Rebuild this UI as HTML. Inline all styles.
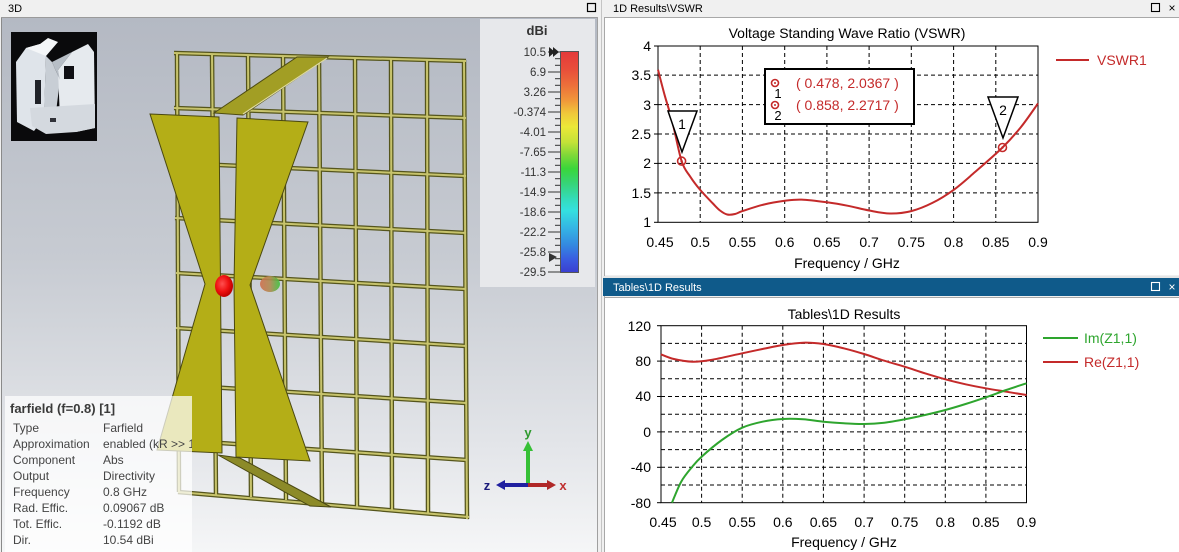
<!DOCTYPE html>
<html>
<head>
<meta charset="utf-8">
<style>
html,body{margin:0;padding:0;background:#f0f0f0;}
body{width:1179px;height:552px;overflow:hidden;}
svg{display:block;}
text{font-family:"Liberation Sans",sans-serif;}
</style>
</head>
<body>
<svg id="main" width="1179" height="552" viewBox="0 0 1179 552" xmlns="http://www.w3.org/2000/svg">
<defs>
  <linearGradient id="bg3d" x1="0" y1="0" x2="0" y2="1">
    <stop offset="0" stop-color="#b4b9c3"/>
    <stop offset="0.45" stop-color="#c7cbd2"/>
    <stop offset="0.8" stop-color="#e3e5e9"/>
    <stop offset="1" stop-color="#f5f6f7"/>
  </linearGradient>
  <linearGradient id="cbar" x1="0" y1="0" x2="0" y2="1">
    <stop offset="0" stop-color="#e43a3a"/>
    <stop offset="0.08" stop-color="#e84e3a"/>
    <stop offset="0.15" stop-color="#ec6e3a"/>
    <stop offset="0.22" stop-color="#f0963a"/>
    <stop offset="0.28" stop-color="#f0c83a"/>
    <stop offset="0.34" stop-color="#ece838"/>
    <stop offset="0.41" stop-color="#c4e238"/>
    <stop offset="0.47" stop-color="#7ed838"/>
    <stop offset="0.53" stop-color="#3ad63a"/>
    <stop offset="0.60" stop-color="#36d47a"/>
    <stop offset="0.67" stop-color="#34dcbc"/>
    <stop offset="0.72" stop-color="#34e0e0"/>
    <stop offset="0.80" stop-color="#34b4e4"/>
    <stop offset="0.88" stop-color="#3486e0"/>
    <stop offset="0.94" stop-color="#3a5ce0"/>
    <stop offset="1" stop-color="#3a3ed0"/>
  </linearGradient>
  <radialGradient id="redball" cx="0.4" cy="0.4" r="0.6">
    <stop offset="0" stop-color="#ff5050"/>
    <stop offset="0.6" stop-color="#ee1010"/>
    <stop offset="1" stop-color="#c00000"/>
  </radialGradient>
  <linearGradient id="blob" x1="0" y1="0" x2="1" y2="0">
    <stop offset="0" stop-color="#d0704c"/>
    <stop offset="0.5" stop-color="#b08a50"/>
    <stop offset="1" stop-color="#3ec23e"/>
  </linearGradient>
  <clipPath id="infoclip"><rect x="5" y="396" width="187" height="156"/></clipPath>
  <clipPath id="vp"><rect x="2" y="18" width="595" height="534"/></clipPath>
</defs>

<!-- ============ 3D PANEL ============ -->
<rect x="0" y="0" width="598" height="17" fill="#f0f0f0"/>
<text x="8" y="12" font-size="11" fill="#000">3D</text>
<rect x="587.5" y="3.5" width="8" height="8" fill="none" stroke="#000" stroke-width="1.2"/>
<rect x="2" y="18" width="595" height="534" fill="url(#bg3d)"/>
<line x1="1.5" y1="17" x2="1.5" y2="552" stroke="#8a8a8a"/>
<line x1="1" y1="17.5" x2="598" y2="17.5" stroke="#9a9a9a"/>
<line x1="597.5" y1="17" x2="597.5" y2="552" stroke="#a0a0a0"/>

<g clip-path="url(#vp)">
<!-- color legend panel -->
<rect x="480" y="19" width="115" height="268" fill="#e7e8eb"/>
<text x="537" y="35" font-size="13" font-weight="bold" fill="#333" text-anchor="middle">dBi</text>
<rect x="560.5" y="51.5" width="18" height="221" fill="url(#cbar)" stroke="#555" stroke-width="1"/>
<g stroke="#333" stroke-width="1">
  <line x1="548" y1="52" x2="560" y2="52"/><line x1="548" y1="72" x2="560" y2="72"/>
  <line x1="548" y1="92" x2="560" y2="92"/><line x1="548" y1="112" x2="560" y2="112"/>
  <line x1="548" y1="132" x2="560" y2="132"/><line x1="548" y1="152" x2="560" y2="152"/>
  <line x1="548" y1="172" x2="560" y2="172"/><line x1="548" y1="192" x2="560" y2="192"/>
  <line x1="548" y1="212" x2="560" y2="212"/><line x1="548" y1="232" x2="560" y2="232"/>
  <line x1="548" y1="252" x2="560" y2="252"/><line x1="548" y1="272" x2="560" y2="272"/>
</g>
<g stroke="#333" stroke-width="1">
  <line x1="555" y1="58.7" x2="560" y2="58.7"/><line x1="555" y1="65.3" x2="560" y2="65.3"/>
  <line x1="555" y1="78.7" x2="560" y2="78.7"/><line x1="555" y1="85.3" x2="560" y2="85.3"/>
  <line x1="555" y1="98.7" x2="560" y2="98.7"/><line x1="555" y1="105.3" x2="560" y2="105.3"/>
  <line x1="555" y1="118.7" x2="560" y2="118.7"/><line x1="555" y1="125.3" x2="560" y2="125.3"/>
  <line x1="555" y1="138.7" x2="560" y2="138.7"/><line x1="555" y1="145.3" x2="560" y2="145.3"/>
  <line x1="555" y1="158.7" x2="560" y2="158.7"/><line x1="555" y1="165.3" x2="560" y2="165.3"/>
  <line x1="555" y1="178.7" x2="560" y2="178.7"/><line x1="555" y1="185.3" x2="560" y2="185.3"/>
  <line x1="555" y1="198.7" x2="560" y2="198.7"/><line x1="555" y1="205.3" x2="560" y2="205.3"/>
  <line x1="555" y1="218.7" x2="560" y2="218.7"/><line x1="555" y1="225.3" x2="560" y2="225.3"/>
  <line x1="555" y1="238.7" x2="560" y2="238.7"/><line x1="555" y1="245.3" x2="560" y2="245.3"/>
  <line x1="555" y1="258.7" x2="560" y2="258.7"/><line x1="555" y1="265.3" x2="560" y2="265.3"/>
</g>
<g font-size="11.5" fill="#333" text-anchor="end">
  <text x="546" y="56">10.5</text><text x="546" y="76">6.9</text>
  <text x="546" y="96">3.26</text><text x="546" y="116">-0.374</text>
  <text x="546" y="136">-4.01</text><text x="546" y="156">-7.65</text>
  <text x="546" y="176">-11.3</text><text x="546" y="196">-14.9</text>
  <text x="546" y="216">-18.6</text><text x="546" y="236">-22.2</text>
  <text x="546" y="256">-25.8</text><text x="546" y="276">-29.5</text>
</g>
<polygon points="549,47 555,52 549,57" fill="#222"/>
<polygon points="553,47 559,52 553,57" fill="#222"/>
<polygon points="549,253 557,257 549,262" fill="#333"/>

<!-- thumbnail -->
<rect x="11" y="32" width="86" height="109" fill="#0a0a0c"/>
<polygon points="16,62 26,48 40,44 46,56 44,118 34,131 17,122" fill="#dfe4ea"/>
<polygon points="26,48 40,44 48,38 58,42 46,56" fill="#f4f6f8"/>
<polygon points="46,56 52,62 60,80 56,112 48,120 44,112" fill="#c8ced5"/>
<polygon points="58,70 72,52 88,44 94,52 95,128 76,132 60,120" fill="#e6eaee"/>
<polygon points="52,62 64,56 72,52 58,70 60,80" fill="#b7bec6"/>
<polygon points="30,108 95,104 95,128 76,132 46,134 32,126" fill="#d4d9df"/>
<rect x="64" y="66" width="10" height="13" fill="#101014"/>
<rect x="35" y="80" width="6" height="24" fill="#202228"/>
<rect x="50" y="118" width="6" height="4" fill="#303238"/>

<!-- grid rows -->
<g stroke-linecap="butt">
<g stroke="#55551c" stroke-width="4.5">
  <line x1="174" y1="53" x2="466" y2="61"/>
  <line x1="174" y1="108" x2="466" y2="118"/>
  <line x1="175" y1="163" x2="466" y2="176"/>
  <line x1="175" y1="218" x2="466" y2="233"/>
  <line x1="176" y1="273" x2="466" y2="289"/>
  <line x1="176" y1="328" x2="466" y2="346"/>
  <line x1="177" y1="385" x2="466" y2="403"/>
  <line x1="177" y1="440" x2="467" y2="460"/>
  <line x1="178" y1="492" x2="469" y2="517"/>
  <line x1="177" y1="53" x2="179" y2="492"/>
  <line x1="212" y1="54" x2="216" y2="495"/>
  <line x1="248" y1="55" x2="251" y2="497"/>
  <line x1="283" y1="56" x2="286" y2="500"/>
  <line x1="319" y1="57" x2="322" y2="503"/>
  <line x1="355" y1="58" x2="357" y2="507"/>
  <line x1="391" y1="59" x2="392" y2="510"/>
  <line x1="427" y1="60" x2="428" y2="513"/>
  <line x1="464" y1="60" x2="467" y2="519"/>
</g>
<g stroke="#c7c36c" stroke-width="2">
  <line x1="174" y1="53" x2="466" y2="61"/>
  <line x1="174" y1="108" x2="466" y2="118"/>
  <line x1="175" y1="163" x2="466" y2="176"/>
  <line x1="175" y1="218" x2="466" y2="233"/>
  <line x1="176" y1="273" x2="466" y2="289"/>
  <line x1="176" y1="328" x2="466" y2="346"/>
  <line x1="177" y1="385" x2="466" y2="403"/>
  <line x1="177" y1="440" x2="467" y2="460"/>
  <line x1="178" y1="492" x2="469" y2="517"/>
  <line x1="177" y1="53" x2="179" y2="492"/>
  <line x1="212" y1="54" x2="216" y2="495"/>
  <line x1="248" y1="55" x2="251" y2="497"/>
  <line x1="283" y1="56" x2="286" y2="500"/>
  <line x1="319" y1="57" x2="322" y2="503"/>
  <line x1="355" y1="58" x2="357" y2="507"/>
  <line x1="391" y1="59" x2="392" y2="510"/>
  <line x1="427" y1="60" x2="428" y2="513"/>
  <line x1="464" y1="60" x2="467" y2="519"/>
</g>
</g>

<!-- top strut -->
<polygon points="214,113 297,57 328,57 243,115" fill="#a29e24" stroke="#4e4c12" stroke-width="1"/>
<line x1="243" y1="114" x2="327" y2="58" stroke="#dedaa0" stroke-width="1.2"/>

<!-- bottom strut -->
<polygon points="218,455 240,458 331,507 310,506" fill="#8c8a28" stroke="#4a4812" stroke-width="1"/>

<!-- wings -->
<polygon points="150,114 219,117 222,453 157,450 205,284" fill="#b4ae17" stroke="#4a4810" stroke-width="1"/>
<polygon points="237,118 308,122 250,285 310,461 236,457 234,285" fill="#b4ae17" stroke="#4a4810" stroke-width="1"/>

<!-- feed / farfield blobs -->
<ellipse cx="224" cy="286" rx="9" ry="11" fill="url(#redball)"/>
<ellipse cx="270" cy="284" rx="10" ry="8" fill="url(#blob)" opacity="0.9"/>

<!-- info panel -->
<rect x="5" y="396" width="187" height="156" fill="#ffffff" opacity="0.72"/>
<g clip-path="url(#infoclip)">
<text x="10" y="413" font-size="13" font-weight="bold" fill="#3a3a3a">farfield (f=0.8) [1]</text>
<g font-size="12" fill="#444">
  <text x="13" y="432">Type</text><text x="103" y="432">Farfield</text>
  <text x="13" y="448">Approximation</text><text x="103" y="448">enabled (kR &gt;&gt; 1)</text>
  <text x="13" y="464">Component</text><text x="103" y="464">Abs</text>
  <text x="13" y="480">Output</text><text x="103" y="480">Directivity</text>
  <text x="13" y="496">Frequency</text><text x="103" y="496">0.8 GHz</text>
  <text x="13" y="512">Rad. Effic.</text><text x="103" y="512">0.09067 dB</text>
  <text x="13" y="528">Tot. Effic.</text><text x="103" y="528">-0.1192 dB</text>
  <text x="13" y="544">Dir.</text><text x="103" y="544">10.54 dBi</text>
</g>
</g>

<!-- axis triad -->
<line x1="528" y1="485" x2="528" y2="450" stroke="#36c036" stroke-width="4"/>
<polygon points="523,451 533,451 528,441" fill="#36c036"/>
<line x1="528" y1="485" x2="504" y2="485" stroke="#2020a0" stroke-width="4"/>
<polygon points="505,480 505,490 496,485" fill="#2020a0"/>
<line x1="528" y1="485" x2="548" y2="485" stroke="#b02828" stroke-width="4"/>
<polygon points="547,480 547,490 556,485" fill="#b02828"/>
<text x="528" y="437" font-size="13" font-weight="bold" font-family="Liberation Serif, serif" fill="#2e9a2e" text-anchor="middle">y</text>
<text x="487" y="490" font-size="13" font-weight="bold" font-family="Liberation Serif, serif" fill="#1a1a7a" text-anchor="middle">z</text>
<text x="563" y="490" font-size="13" font-weight="bold" font-family="Liberation Serif, serif" fill="#c03030" text-anchor="middle">x</text>
</g>

<!-- ============ RIGHT TOP PANEL (VSWR) ============ -->
<rect x="603" y="0" width="576" height="17" fill="#f0f0f0"/>
<text x="613" y="12" font-size="11" fill="#000">1D Results\VSWR</text>
<rect x="1151.5" y="3.5" width="8" height="8" fill="none" stroke="#000" stroke-width="1.1"/>
<text x="1172" y="12" font-size="12" fill="#000" text-anchor="middle">×</text>
<rect x="605" y="18" width="574" height="257" fill="#ffffff"/>
<line x1="604.5" y1="17" x2="604.5" y2="276" stroke="#a8a8a8"/>
<line x1="604" y1="17.5" x2="1179" y2="17.5" stroke="#a8a8a8"/>
<line x1="601.5" y1="0" x2="601.5" y2="552" stroke="#c4c4c4"/>

<text x="847" y="38" font-size="14" fill="#000" text-anchor="middle">Voltage Standing Wave Ratio (VSWR)</text>
<g stroke="#000" stroke-width="1" stroke-dasharray="4 3">
  <line x1="700.2" y1="46" x2="700.2" y2="222"/>
  <line x1="742.4" y1="46" x2="742.4" y2="222"/>
  <line x1="784.7" y1="46" x2="784.7" y2="222"/>
  <line x1="826.9" y1="46" x2="826.9" y2="222"/>
  <line x1="869.1" y1="46" x2="869.1" y2="222"/>
  <line x1="911.3" y1="46" x2="911.3" y2="222"/>
  <line x1="953.6" y1="46" x2="953.6" y2="222"/>
  <line x1="995.8" y1="46" x2="995.8" y2="222"/>
  <line x1="658" y1="75.1" x2="1038" y2="75.1"/>
  <line x1="658" y1="104.6" x2="1038" y2="104.6"/>
  <line x1="658" y1="134" x2="1038" y2="134"/>
  <line x1="658" y1="163.4" x2="1038" y2="163.4"/>
  <line x1="658" y1="192.9" x2="1038" y2="192.9"/>
</g>
<rect x="658" y="46" width="380" height="176.3" fill="none" stroke="#000" stroke-width="1"/>
<g stroke="#000" stroke-width="1">
  <line x1="654" y1="46" x2="658" y2="46"/><line x1="654" y1="75.1" x2="658" y2="75.1"/>
  <line x1="654" y1="104.6" x2="658" y2="104.6"/><line x1="654" y1="134" x2="658" y2="134"/>
  <line x1="654" y1="163.4" x2="658" y2="163.4"/><line x1="654" y1="192.9" x2="658" y2="192.9"/>
  <line x1="654" y1="222.3" x2="658" y2="222.3"/>
</g>
<g font-size="14" fill="#000" text-anchor="end">
  <text x="651" y="51">4</text><text x="651" y="80">3.5</text><text x="651" y="110">3</text>
  <text x="651" y="139">2.5</text><text x="651" y="168">2</text><text x="651" y="198">1.5</text>
  <text x="651" y="227">1</text>
</g>
<g font-size="14" fill="#000" text-anchor="middle">
  <text x="660" y="247">0.45</text><text x="700.2" y="247">0.5</text><text x="742.4" y="247">0.55</text>
  <text x="784.7" y="247">0.6</text><text x="826.9" y="247">0.65</text><text x="869.1" y="247">0.7</text>
  <text x="911.3" y="247">0.75</text><text x="953.6" y="247">0.8</text><text x="995.8" y="247">0.85</text>
  <text x="1038" y="247">0.9</text>
</g>
<text x="847" y="268" font-size="14" fill="#000" text-anchor="middle">Frequency / GHz</text>

<polyline class="smooth" fill="none" stroke="#c42a2a" stroke-width="2" stroke-linejoin="round"
 points="658,69.8 664.8,95.7 672.2,121.1 681.6,161.1 690.1,176.4 700.2,189.9 712.9,203.5 720,210.5 727.2,214.5 735,214 742.4,211.1 763.6,204.6 784.7,200.8 801.6,199.6 827,202.3 848,205.8 869.1,210.5 890.2,213.5 911.3,211.1 932.4,202.9 953.6,189.9 974.7,172.3 1002.5,147.5 1021,127 1038,103.4"/>

<!-- markers -->
<polygon points="668,111 697,111 682,152" fill="#fff" stroke="#000" stroke-width="1.5"/>
<text x="682" y="129" font-size="14" text-anchor="middle" fill="#000">1</text>
<polygon points="988,97 1018,97 1003,138" fill="#fff" stroke="#000" stroke-width="1.5"/>
<text x="1003" y="115" font-size="14" text-anchor="middle" fill="#000">2</text>
<circle cx="681.6" cy="161.1" r="4" fill="none" stroke="#c42a2a" stroke-width="1.6"/>
<circle cx="681.6" cy="161.1" r="1.2" fill="#c42a2a"/>
<circle cx="1002.5" cy="147.5" r="4" fill="none" stroke="#c42a2a" stroke-width="1.6"/>
<circle cx="1002.5" cy="147.5" r="1.2" fill="#c42a2a"/>

<rect x="765" y="69" width="149" height="55" fill="#fff" stroke="#000" stroke-width="2"/>
<circle cx="775" cy="83" r="3.5" fill="none" stroke="#c42a2a" stroke-width="1.6"/>
<circle cx="775" cy="83" r="1" fill="#c42a2a"/>
<circle cx="775" cy="105" r="3.5" fill="none" stroke="#c42a2a" stroke-width="1.6"/>
<circle cx="775" cy="105" r="1" fill="#c42a2a"/>
<text x="778" y="98" font-size="13" fill="#000" text-anchor="middle">1</text>
<text x="778" y="120" font-size="13" fill="#000" text-anchor="middle">2</text>
<text x="796" y="88" font-size="14" fill="#c42a2a">( 0.478, 2.0367 )</text>
<text x="796" y="110" font-size="14" fill="#c42a2a">( 0.858, 2.2717 )</text>

<line x1="1056" y1="60" x2="1089" y2="60" stroke="#c42a2a" stroke-width="2"/>
<text x="1097" y="65" font-size="14" fill="#c42a2a">VSWR1</text>

<!-- ============ RIGHT BOTTOM PANEL ============ -->
<rect x="603" y="276" width="576" height="2" fill="#e6e6e6"/>
<rect x="603" y="278" width="576" height="18" fill="#0f5a8a"/>
<text x="613" y="291" font-size="11" fill="#ffffff">Tables\1D Results</text>
<rect x="1151.5" y="282.5" width="8" height="8" fill="none" stroke="#fff" stroke-width="1.1"/>
<text x="1172" y="291" font-size="12" fill="#fff" text-anchor="middle">×</text>
<rect x="605" y="298" width="574" height="254" fill="#ffffff"/>
<line x1="604.5" y1="296" x2="604.5" y2="552" stroke="#a8a8a8"/>
<line x1="604" y1="297.5" x2="1179" y2="297.5" stroke="#a8a8a8"/>

<text x="844" y="319" font-size="14" fill="#000" text-anchor="middle">Tables\1D Results</text>
<g stroke="#000" stroke-width="1" stroke-dasharray="4 3">
  <line x1="701.6" y1="325.7" x2="701.6" y2="502.7"/>
  <line x1="742.2" y1="325.7" x2="742.2" y2="502.7"/>
  <line x1="782.8" y1="325.7" x2="782.8" y2="502.7"/>
  <line x1="823.4" y1="325.7" x2="823.4" y2="502.7"/>
  <line x1="864.1" y1="325.7" x2="864.1" y2="502.7"/>
  <line x1="904.7" y1="325.7" x2="904.7" y2="502.7"/>
  <line x1="945.3" y1="325.7" x2="945.3" y2="502.7"/>
  <line x1="985.9" y1="325.7" x2="985.9" y2="502.7"/>
  <line x1="661" y1="343.4" x2="1026.5" y2="343.4"/>
  <line x1="661" y1="361.1" x2="1026.5" y2="361.1"/>
  <line x1="661" y1="378.8" x2="1026.5" y2="378.8"/>
  <line x1="661" y1="396.5" x2="1026.5" y2="396.5"/>
  <line x1="661" y1="414.2" x2="1026.5" y2="414.2"/>
  <line x1="661" y1="431.9" x2="1026.5" y2="431.9"/>
  <line x1="661" y1="449.6" x2="1026.5" y2="449.6"/>
  <line x1="661" y1="467.3" x2="1026.5" y2="467.3"/>
  <line x1="661" y1="485" x2="1026.5" y2="485"/>
</g>
<rect x="661" y="325.7" width="365.5" height="177" fill="none" stroke="#000" stroke-width="1"/>
<g stroke="#000" stroke-width="1">
  <line x1="657" y1="325.7" x2="661" y2="325.7"/><line x1="657" y1="361.1" x2="661" y2="361.1"/>
  <line x1="657" y1="396.5" x2="661" y2="396.5"/><line x1="657" y1="431.9" x2="661" y2="431.9"/>
  <line x1="657" y1="467.3" x2="661" y2="467.3"/><line x1="657" y1="502.7" x2="661" y2="502.7"/>
</g>
<g font-size="14" fill="#000" text-anchor="end">
  <text x="651" y="331">120</text><text x="651" y="366">80</text><text x="651" y="401">40</text>
  <text x="651" y="437">0</text><text x="651" y="472">-40</text><text x="651" y="508">-80</text>
</g>
<g font-size="14" fill="#000" text-anchor="middle">
  <text x="663" y="527">0.45</text><text x="701.6" y="527">0.5</text><text x="742.2" y="527">0.55</text>
  <text x="782.8" y="527">0.6</text><text x="823.4" y="527">0.65</text><text x="864.1" y="527">0.7</text>
  <text x="904.7" y="527">0.75</text><text x="945.3" y="527">0.8</text><text x="985.9" y="527">0.85</text>
  <text x="1026.5" y="527">0.9</text>
</g>
<text x="844" y="547" font-size="14" fill="#000" text-anchor="middle">Frequency / GHz</text>

<polyline class="smooth" fill="none" stroke="#c42a2a" stroke-width="2" stroke-linejoin="round"
 points="660.9,354.3 673.9,359 692.3,361.7 710.8,360 742.2,353.3 762.5,349 782.8,345 803.1,342.7 823.4,344 843.7,348.3 864,354 884.3,360.7 904.7,366.7 925,373.3 945.3,379.3 965.6,384.3 985.9,388.3 1006.2,391.7 1026.5,395"/>
<polyline class="smooth" fill="none" stroke="#2ea52e" stroke-width="2" stroke-linejoin="round"
 points="672,502.7 681.2,481.7 692.3,466.7 701.6,456.7 721.9,440 742.2,427.7 762.5,421.7 782.8,419 803.1,419.3 823.4,421.7 843.7,423.3 864,424 884.3,422.7 904.7,419.3 925,415 945.3,410 965.6,404 985.9,397.3 1006.2,390 1026.5,383.3"/>

<line x1="1043" y1="338" x2="1078" y2="338" stroke="#2ea52e" stroke-width="2"/>
<text x="1084" y="343" font-size="14" fill="#2ea52e">Im(Z1,1)</text>
<line x1="1043" y1="362" x2="1078" y2="362" stroke="#c42a2a" stroke-width="2"/>
<text x="1084" y="367" font-size="14" fill="#c42a2a">Re(Z1,1)</text>
</svg>
<script>
(function(){
  try{
    var ns="http://www.w3.org/2000/svg";
    var pls=document.querySelectorAll("polyline.smooth");
    for(var i=0;i<pls.length;i++){
      var pl=pls[i];
      var raw=pl.getAttribute("points").trim().split(/\s+/);
      var p=[];
      for(var j=0;j<raw.length;j++){var c=raw[j].split(",");p.push([parseFloat(c[0]),parseFloat(c[1])]);}
      var d="M"+p[0][0]+","+p[0][1];
      for(var k=0;k<p.length-1;k++){
        var p0=p[k>0?k-1:k],p1=p[k],p2=p[k+1],p3=p[k+2<p.length?k+2:k+1];
        var c1x=p1[0]+(p2[0]-p0[0])/6,c1y=p1[1]+(p2[1]-p0[1])/6;
        var c2x=p2[0]-(p3[0]-p1[0])/6,c2y=p2[1]-(p3[1]-p1[1])/6;
        d+=" C"+c1x.toFixed(2)+","+c1y.toFixed(2)+" "+c2x.toFixed(2)+","+c2y.toFixed(2)+" "+p2[0]+","+p2[1];
      }
      var path=document.createElementNS(ns,"path");
      path.setAttribute("d",d);
      path.setAttribute("fill","none");
      path.setAttribute("stroke",pl.getAttribute("stroke"));
      path.setAttribute("stroke-width",pl.getAttribute("stroke-width"));
      path.setAttribute("stroke-linejoin","round");
      pl.parentNode.insertBefore(path,pl);
      pl.parentNode.removeChild(pl);
    }
  }catch(e){}
})();
</script>
</body>
</html>
